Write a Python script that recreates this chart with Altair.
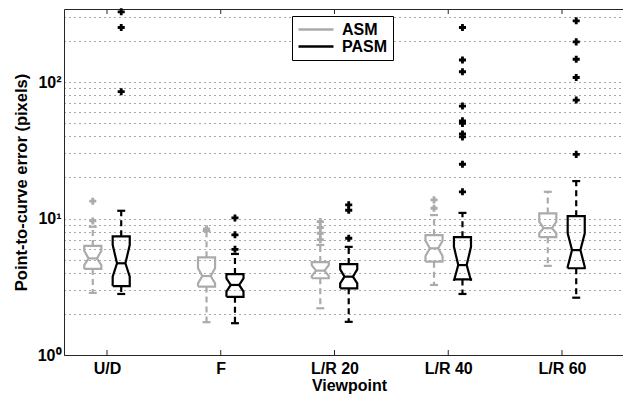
import json
import altair as alt
import pandas as pd

# Viewpoint groups along the x axis
viewpoints = ["U/D", "F", "L/R 20", "L/R 40", "L/R 60"]
methods = ["ASM", "PASM"]

# Box statistics per viewpoint (pixels)
asm_whisker_lo = [2.85, 1.74, 2.2, 3.26, 4.5]
asm_q1 = [4.27, 3.17, 3.65, 4.83, 7.3]
asm_notch_lo = [4.56, 3.35, 3.79, 5.31, 7.8]
asm_median = [5.1, 3.79, 4.15, 6.05, 8.5]
asm_notch_hi = [5.8, 4.32, 4.56, 6.88, 9.5]
asm_q3 = [6.3, 5.2, 4.8, 7.55, 10.9]
asm_whisker_hi = [8.7, 8.1, 6.4, 10.6, 15.7]
asm_outliers = [[9.6, 13.4], [8.4], [7.0, 7.8, 8.6, 9.5], [11.9, 13.7], []]

pasm_whisker_lo = [2.8, 1.71, 1.75, 2.8, 2.63]
pasm_q1 = [3.2, 2.67, 3.08, 3.58, 4.32]
pasm_notch_lo = [3.75, 2.91, 3.35, 3.5, 4.43]
pasm_median = [4.7, 3.26, 3.75, 4.56, 5.87]
pasm_notch_hi = [6.4, 3.64, 4.24, 6.2, 7.8]
pasm_q3 = [7.4, 3.92, 4.64, 7.3, 10.4]
pasm_whisker_hi = [11.4, 5.5, 6.2, 11.0, 18.8]
pasm_outliers = [
    [85, 251, 327],
    [5.95, 7.6, 10.1],
    [7.17, 11.5, 12.6],
    [15.7, 25, 39.6, 41.6, 49.8, 52, 66.7, 119, 145, 251],
    [29.5, 73.8, 108, 147, 197, 281],
]

stats = {
    "ASM": dict(lo=asm_whisker_lo, q1=asm_q1, nlo=asm_notch_lo, med=asm_median,
                nhi=asm_notch_hi, q3=asm_q3, hi=asm_whisker_hi, out=asm_outliers),
    "PASM": dict(lo=pasm_whisker_lo, q1=pasm_q1, nlo=pasm_notch_lo, med=pasm_median,
                 nhi=pasm_notch_hi, q3=pasm_q3, hi=pasm_whisker_hi, out=pasm_outliers),
}

# Box geometry in x-axis units
offset = {"ASM": -0.125, "PASM": 0.125}
half_w = 0.075
waist_w = 0.037
cap_w = 0.035

outline, whiskers, caps, medians, points = [], [], [], [], []
for m in methods:
    s = stats[m]
    for i, vp in enumerate(viewpoints):
        xc = i + 1 + offset[m]
        xl, xr = xc - half_w, xc + half_w
        q1, nlo, med, nhi, q3 = s["q1"][i], s["nlo"][i], s["med"][i], s["nhi"][i], s["q3"][i]
        verts = [(xl, q1), (xl, nlo), (xc - waist_w, med), (xl, nhi), (xl, q3),
                 (xr, q3), (xr, nhi), (xc + waist_w, med), (xr, nlo), (xr, q1), (xl, q1)]
        for k, (vx, vy) in enumerate(verts):
            outline.append({"method": m, "box": f"{m}-{vp}", "k": k, "x": vx, "y": vy})
        whiskers.append({"method": m, "x": xc, "y": q3, "y2": s["hi"][i]})
        whiskers.append({"method": m, "x": xc, "y": q1, "y2": s["lo"][i]})
        for w in (s["hi"][i], s["lo"][i]):
            caps.append({"method": m, "x": xc - cap_w, "x2": xc + cap_w, "y": w})
        medians.append({"method": m, "x": xc - waist_w, "x2": xc + waist_w, "y": med})
        for v in s["out"][i]:
            points.append({"method": m, "x": xc, "y": v})

outline_df = pd.DataFrame(outline)
whisker_df = pd.DataFrame(whiskers)
cap_df = pd.DataFrame(caps)
median_df = pd.DataFrame(medians)
point_df = pd.DataFrame(points)
tick_df = pd.DataFrame({"pos": list(range(1, len(viewpoints) + 1))})

FONT = "Liberation Sans"
x_dom = [0.622, 0.622 + 559 / 113.75]
y_dom = [1, 343]

xs = alt.Scale(domain=x_dom, nice=False, zero=False)
ys = alt.Scale(type="log", domain=y_dom, nice=False)

color = alt.Color(
    "method:N",
    scale=alt.Scale(domain=methods, range=["#ababab", "#000000"]),
    legend=alt.Legend(
        title=None, orient="none", legendX=228, legendY=7,
        symbolType="M-1,0H4", symbolSize=196, symbolStrokeWidth=2.5,
        labelFont=FONT, labelFontSize=16, labelFontWeight="bold", labelColor="black",
        labelOffset=28, strokeColor="black", fillColor="white", padding=5, rowPadding=0,
    ),
)

label_expr = "[" + ",".join(json.dumps(v) for v in viewpoints) + "][datum.value - 1]"

x_bottom = alt.Axis(
    values=tick_df["pos"].tolist(), labelExpr=label_expr, title="Viewpoint",
    labelFont=FONT, labelFontSize=16, labelFontWeight="bold", labelColor="black",
    titleFont=FONT, titleFontSize=16, titleFontWeight="bold", titleColor="black",
    labelPadding=5, titlePadding=1, titleX=285, ticks=False, grid=False,
    domainColor="#262626", orient="bottom",
)
x_top = alt.Axis(orient="top", labels=False, ticks=False, grid=False, title=None,
                 domainColor="#262626")

y_axis = alt.Axis(
    values=[1, 2, 3, 4, 5, 6, 7, 8, 9, 10, 20, 30, 40, 50, 60, 70, 80, 90, 100, 200, 300],
    labelExpr="datum.value == 1 ? '10⁰' : datum.value == 10 ? '10¹' : datum.value == 100 ? '10²' : ''",
    title="Point-to-curve error (pixels)",
    labelFont=FONT, labelFontSize=16, labelFontWeight="bold", labelColor="black",
    titleFont=FONT, titleFontSize=16.5, titleFontWeight="bold", titleColor="black",
    labelPadding=3, titlePadding=8, ticks=False, labelOverlap=False,
    grid=True, gridDash=[1, 4], gridColor="#333333", gridOpacity=0.85,
    domainColor="#262626",
)

boxes = alt.Chart(outline_df).mark_line(strokeWidth=2.2, strokeJoin="miter").encode(
    x=alt.X("x:Q", scale=xs, axis=x_bottom),
    y=alt.Y("y:Q", scale=ys, axis=y_axis),
    color=color,
    detail="box:N",
    order="k:Q",
)

whisker_lines = alt.Chart(whisker_df).mark_rule(strokeWidth=2.2, strokeDash=[6, 4]).encode(
    x=alt.X("x:Q", scale=xs, axis=None),
    y=alt.Y("y:Q", scale=ys, axis=y_axis),
    y2="y2:Q",
    color=color,
)

cap_lines = alt.Chart(cap_df).mark_rule(strokeWidth=2.2).encode(
    x=alt.X("x:Q", scale=xs, axis=None),
    x2="x2:Q",
    y=alt.Y("y:Q", scale=ys, axis=y_axis),
    color=color,
)

median_lines = alt.Chart(median_df).mark_rule(strokeWidth=2.2).encode(
    x=alt.X("x:Q", scale=xs, axis=None),
    x2="x2:Q",
    y=alt.Y("y:Q", scale=ys, axis=y_axis),
    color=color,
)

outlier_marks = alt.Chart(point_df).mark_point(shape="cross", filled=True, size=50, opacity=1).encode(
    x=alt.X("x:Q", scale=xs, axis=None),
    y=alt.Y("y:Q", scale=ys, axis=y_axis),
    color=color,
)

top_frame = alt.Chart(tick_df).mark_rule(color="#262626", strokeWidth=1).encode(
    x=alt.X("pos:Q", scale=xs, axis=x_top),
    y=alt.value(0),
    y2=alt.value(5),
)

bottom_ticks = alt.Chart(tick_df).mark_rule(color="#262626", strokeWidth=1).encode(
    x=alt.X("pos:Q", scale=xs, axis=None),
    y=alt.value(346),
    y2=alt.value(341),
)

chart = (
    alt.layer(boxes, whisker_lines, cap_lines, median_lines, outlier_marks, top_frame, bottom_ticks)
    .resolve_axis(x="independent")
    .properties(
        width=559, height=346,
        padding={"left": 64, "top": 9, "right": 0, "bottom": 41},
        autosize=alt.AutoSizeParams(type="none"),
        background="white",
    )
    .configure_view(stroke=None)
)

chart.save("out.html", embed_options={"renderer": "svg", "actions": False})
